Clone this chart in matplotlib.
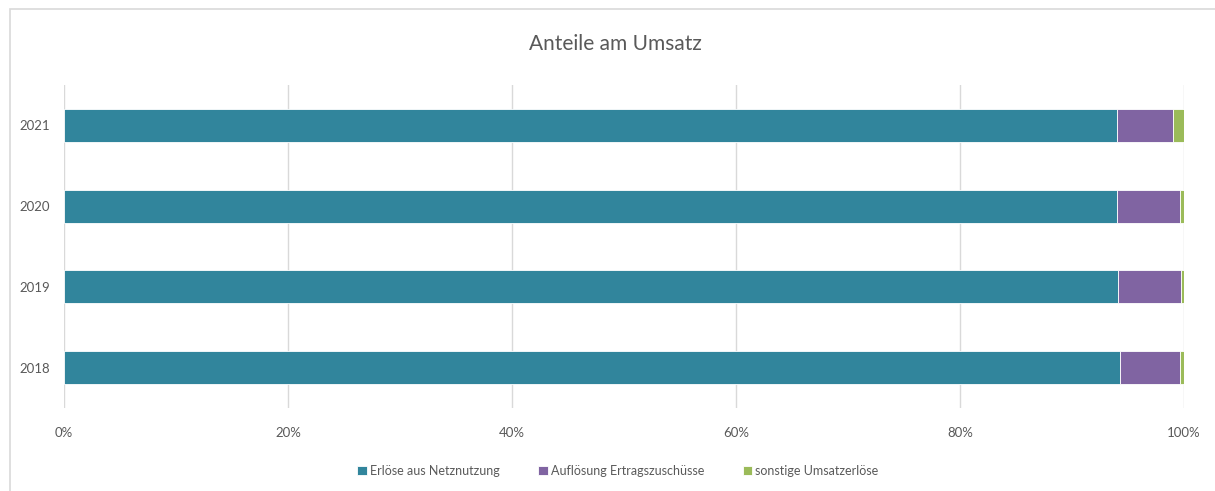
import numpy as np
import matplotlib.pyplot as plt
from matplotlib.patches import Rectangle

# data (shares of revenue, %)
years = ["2018", "2019", "2020", "2021"]
netz = [94.3, 94.1, 94.0, 94.0]
aufl = [5.3, 5.6, 5.6, 5.0]
sonst = [0.4, 0.3, 0.4, 1.0]
labels = ["Erlöse aus Netznutzung", "Auflösung Ertragszuschüsse", "sonstige Umsatzerlöse"]
colors = ["#31859C", "#8064A2", "#9BBB59"]

plt.rcParams["font.family"] = ["Lato", "DejaVu Sans"]
grey = "#595959"

fig = plt.figure(figsize=(12.15, 4.91), dpi=100)
W, H = 1215, 491
ax = fig.add_axes([64 / W, 1 - 408 / H, (1184 - 64) / W, (408 - 85) / H])

# chart frame (extends beyond the picture on right/bottom)
fig.patches.append(Rectangle((10 / W, -0.1), 1.2, 1 - 9 / H + 0.1, transform=fig.transFigure,
                             fill=False, edgecolor="#d9d9d9", linewidth=1.2))

y = np.arange(len(years))
left = np.zeros(len(years))
for vals, lab, col in zip([netz, aufl, sonst], labels, colors):
    ax.barh(y, vals, left=left, height=0.41, color=col, edgecolor="white", linewidth=0.6, label=lab)
    left += np.array(vals)

ax.set_xlim(0, 100)
ax.set_ylim(-0.5, 3.5)
ax.set_yticks(y)
ax.set_yticklabels(years)
ax.set_xticks(np.arange(0, 101, 20))
ax.set_xticklabels([f"{v}%" for v in range(0, 101, 20)])
ax.tick_params(length=0, labelsize=9.5, colors=grey)
ax.tick_params(axis="x", pad=14)
ax.tick_params(axis="y", pad=10)
ax.grid(axis="x", color="#d9d9d9", linewidth=1)
ax.set_axisbelow(True)
for s in ax.spines.values():
    s.set_visible(False)

fig.text(615 / W, 1 - 44 / H, "Anteile am Umsatz", ha="center", va="center", fontsize=15, color=grey)

fig.legend(loc="center", bbox_to_anchor=(618 / W, 1 - 471 / H), ncol=3, frameon=False,
           fontsize=9, labelcolor=grey, handlelength=0.75, handleheight=0.75,
           handletextpad=0.25, columnspacing=3.1)

fig.savefig("out.png", dpi=100)
